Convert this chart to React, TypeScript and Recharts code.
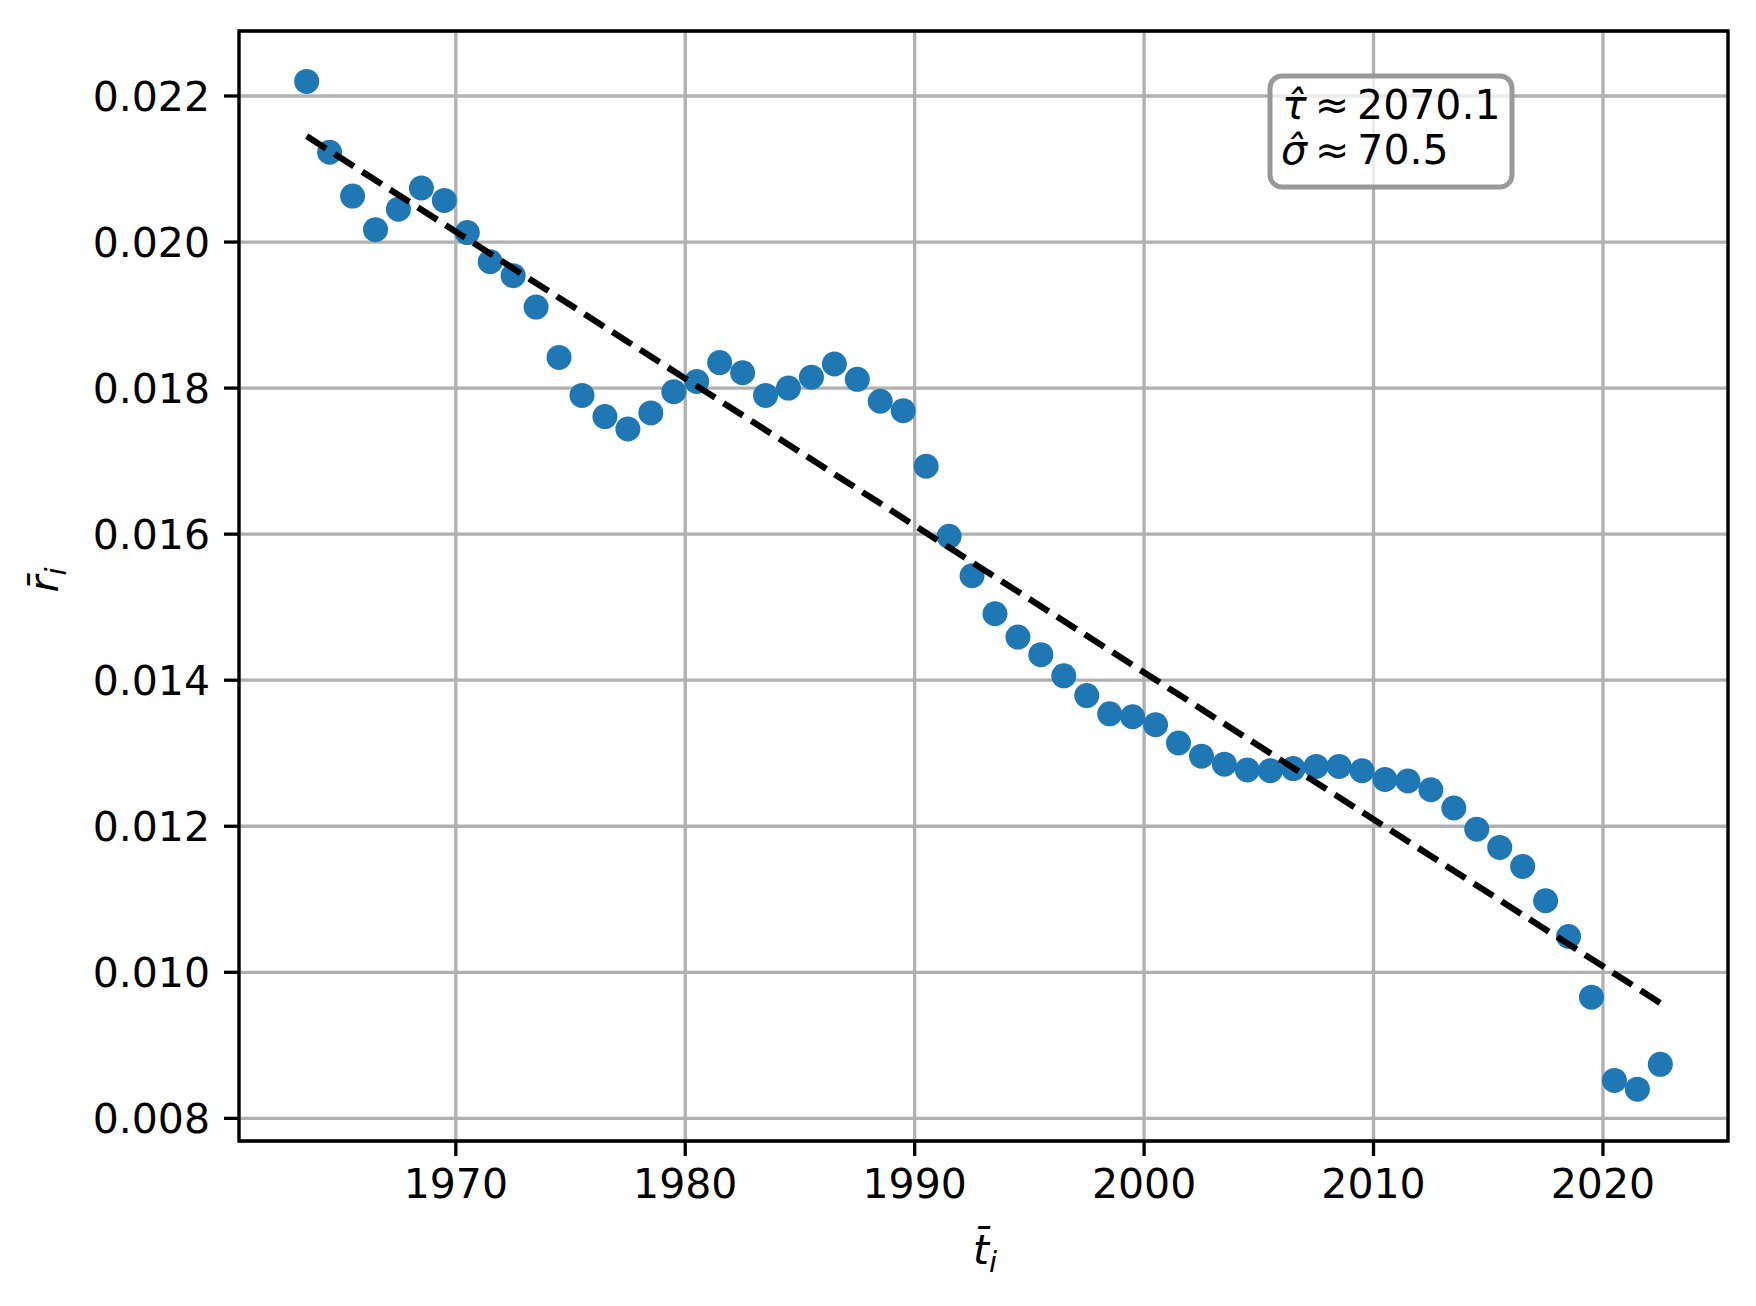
import { CartesianGrid, ReferenceArea, Scatter, ScatterChart, XAxis, YAxis } from "recharts";

// mean year of each window and mean rate
const years = [
  1963.5, 1964.5, 1965.5, 1966.5, 1967.5, 1968.5, 1969.5, 1970.5, 1971.5, 1972.5,
  1973.5, 1974.5, 1975.5, 1976.5, 1977.5, 1978.5, 1979.5, 1980.5, 1981.5, 1982.5,
  1983.5, 1984.5, 1985.5, 1986.5, 1987.5, 1988.5, 1989.5, 1990.5, 1991.5, 1992.5,
  1993.5, 1994.5, 1995.5, 1996.5, 1997.5, 1998.5, 1999.5, 2000.5, 2001.5, 2002.5,
  2003.5, 2004.5, 2005.5, 2006.5, 2007.5, 2008.5, 2009.5, 2010.5, 2011.5, 2012.5,
  2013.5, 2014.5, 2015.5, 2016.5, 2017.5, 2018.5, 2019.5, 2020.5, 2021.5, 2022.5,
];
const rates = [
  0.0222, 0.02123, 0.02063, 0.02017, 0.02045, 0.02074, 0.02057, 0.02013, 0.01973, 0.01954,
  0.01911, 0.01842, 0.0179, 0.01761, 0.01744, 0.01766, 0.01795, 0.01809, 0.01835, 0.01821,
  0.0179, 0.018, 0.01815, 0.01833, 0.01812, 0.01782, 0.01769, 0.01693, 0.01597, 0.01543,
  0.01491, 0.01459, 0.01435, 0.01406, 0.01379, 0.01354, 0.0135, 0.01339, 0.01314, 0.01296,
  0.01285, 0.01277, 0.01276, 0.01279, 0.01282, 0.01282, 0.01276, 0.01264, 0.01262, 0.0125,
  0.01225, 0.01196, 0.01171, 0.01145, 0.01098, 0.01049, 0.00966, 0.00852, 0.0084, 0.00874,
];

// fitted line end points
const fitYears = [1963.5, 2022.5];
const fitRates = [0.02145, 0.00958];

const xTicks = [1970, 1980, 1990, 2000, 2010, 2020];
const yTicks = [0.008, 0.01, 0.012, 0.014, 0.016, 0.018, 0.02, 0.022];
const xDomain = [1960.55, 2025.45];
const yDomain = [0.00769, 0.02289];

const points = years.map((t, i) => ({ t, r: rates[i] }));
const fit = fitYears.map((t, i) => ({ t, r: fitRates[i] }));

const font = "DejaVu Sans";
const tickStyle = { fill: "#000", fontSize: 41, fontFamily: font };

export default function App() {
  return (
    <div style={{ position: "absolute", left: 0, top: 0, width: 1756, height: 1306, background: "#fff" }}>
      <ScatterChart width={1756} height={1306} margin={{ top: 31, right: 28, bottom: 95, left: 89 }}>
        <CartesianGrid stroke="#b0b0b0" strokeWidth={3.3} />
        <XAxis
          type="number"
          dataKey="t"
          domain={xDomain}
          ticks={xTicks}
          allowDataOverflow
          height={70}
          axisLine={false}
          tickSize={15}
          tickMargin={13}
          tickLine={{ stroke: "#000", strokeWidth: 3.3 }}
          tick={tickStyle}
        />
        <YAxis
          type="number"
          dataKey="r"
          domain={yDomain}
          ticks={yTicks}
          allowDataOverflow
          width={150}
          axisLine={false}
          tickSize={15}
          tickMargin={14}
          tickLine={{ stroke: "#000", strokeWidth: 3.3 }}
          tick={tickStyle}
          tickFormatter={(v: number) => v.toFixed(3)}
        />
        <Scatter
          data={points}
          isAnimationActive={false}
          shape={(p: any) => <circle cx={p.cx} cy={p.cy} r={12.5} fill="#1f77b4" />}
        />
        <Scatter
          data={fit}
          isAnimationActive={false}
          line={{ stroke: "#000", strokeWidth: 6.25, strokeDasharray: "23 10" }}
          shape={() => <g />}
        />
        <ReferenceArea
          x1={xDomain[0]}
          x2={xDomain[1]}
          y1={yDomain[0]}
          y2={yDomain[1]}
          fill="none"
          stroke="#000"
          strokeWidth={3.3}
        />
      </ScatterChart>
      <svg
        width={1756}
        height={1306}
        style={{ position: "absolute", left: 0, top: 0, pointerEvents: "none" }}
        fontFamily={font}
      >
        <rect x={1270} y={76} width={242} height={111} rx={12} fill="#fff" fillOpacity={0.75} stroke="#999" strokeWidth={5} />
        <text x={1282} y={119} fontSize={41}>
          <tspan fontStyle="italic">τ̂</tspan>
          <tspan dx={8}>≈</tspan>
          <tspan dx={8}>2070.1</tspan>
        </text>
        <text x={1281} y={164} fontSize={41}>
          <tspan fontStyle="italic">σ̂</tspan>
          <tspan dx={8}>≈</tspan>
          <tspan dx={8}>70.5</tspan>
        </text>
        <text x={985} y={1264} fontSize={41} textAnchor="middle">
          <tspan fontStyle="italic">t̄</tspan>
          <tspan fontStyle="italic" fontSize={29} dy={8}>i</tspan>
        </text>
        <text x={58} y={580} fontSize={41} textAnchor="middle" transform="rotate(-90 58 580)">
          <tspan fontStyle="italic">r̄</tspan>
          <tspan fontStyle="italic" fontSize={29} dy={8}>i</tspan>
        </text>
      </svg>
    </div>
  );
}
